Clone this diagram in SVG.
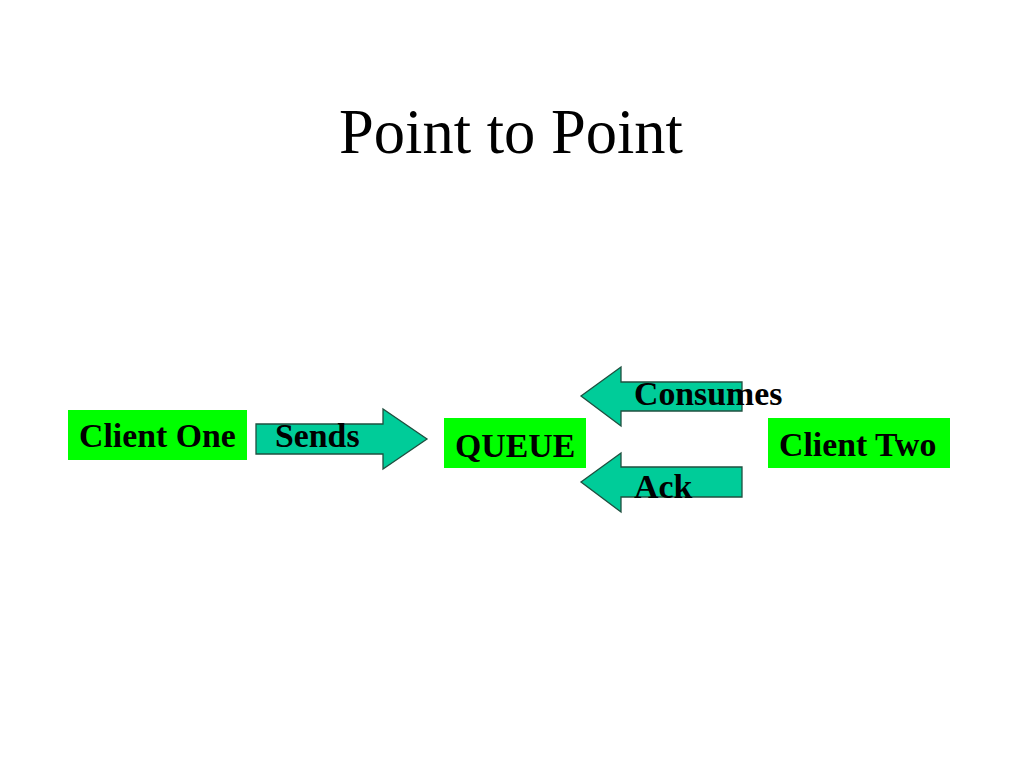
<svg xmlns="http://www.w3.org/2000/svg" width="1024" height="768" viewBox="0 0 1024 768">
<style>
.box{fill:#00ff00;stroke:none}
.arr{fill:#00cc99;stroke:#1f4f3f;stroke-width:1.3}
.lbl{font-family:"Liberation Serif","Times New Roman",serif;font-weight:bold;font-size:33.8px;fill:#000}
.title{font-family:"Liberation Serif","Times New Roman",serif;font-size:62.5px;fill:#000}
</style>
<rect width="1024" height="768" fill="#fff"/>
<text class="title" x="511" y="153" text-anchor="middle">Point to Point</text>
<g id="connectors">
<g id="sends">
<polygon class="arr" points="256,424 383,424 383,409 427,439 383,469 383,454 256,454"/>
<text class="lbl" x="275" y="447">Sends</text>
</g>
<g id="consumes">
<polygon class="arr" points="742,382 621,382 621,367 581,396 621,426 621,411 742,411"/>
<text class="lbl" x="634" y="405">Consumes</text>
</g>
<g id="ack">
<polygon class="arr" points="742,467 621,467 621,453 581,482 621,512 621,497 742,497"/>
<text class="lbl" x="634" y="498">Ack</text>
</g>
</g>
<g id="client-one">
<rect class="box" x="68" y="410" width="179" height="50"/>
<text class="lbl" x="79" y="447">Client One</text>
</g>
<g id="queue">
<rect class="box" x="444" y="418" width="142" height="50"/>
<text class="lbl" x="455" y="457">QUEUE</text>
</g>
<g id="client-two">
<rect class="box" x="768" y="418" width="182" height="50"/>
<text class="lbl" x="779" y="456">Client Two</text>
</g>
</svg>
